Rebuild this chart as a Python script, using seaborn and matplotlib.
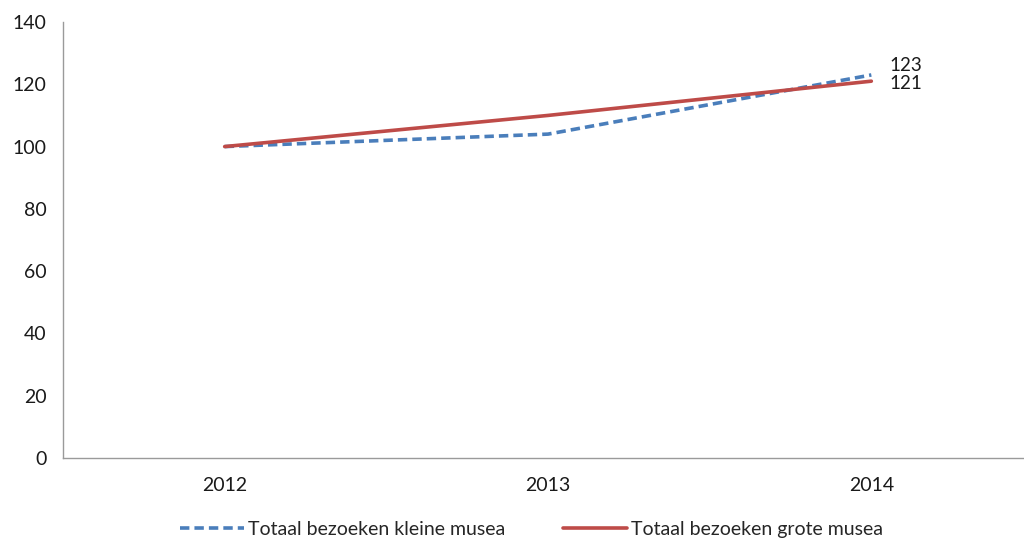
import pandas as pd
import matplotlib.pyplot as plt
import seaborn as sns

# waarden (index 2012 = 100)
jaren = ['2012', '2013', '2014']
kleine_musea = [100, 104, 123]
grote_musea = [100, 110, 121]
labels = ['Totaal bezoeken kleine musea', 'Totaal bezoeken grote musea']

df = pd.DataFrame({
    'jaar': jaren * 2,
    'waarde': kleine_musea + grote_musea,
    'reeks': [labels[0]] * 3 + [labels[1]] * 3,
})

sns.set_style('white')
plt.rcParams['font.family'] = ['Lato', 'DejaVu Sans']

fig = plt.figure(figsize=(10.24, 5.39), dpi=100)
ax = fig.add_axes([63 / 1024, 1 - 458 / 539, (1033 - 63) / 1024, (458 - 22) / 539])

kleuren = {labels[0]: '#4A7EBB', labels[1]: '#BE4B48'}
sns.lineplot(data=df, x='jaar', y='waarde', hue='reeks', palette=kleuren,
             style='reeks', dashes={labels[0]: (2.6, 1.4), labels[1]: ''},
             linewidth=2.6, ax=ax, legend=False)

# eindwaarden
ax.annotate(str(kleine_musea[-1]), xy=(2, kleine_musea[-1]), xytext=(13, 7),
            textcoords='offset points', fontsize=13.5, color='#1a1a1a', va='center')
ax.annotate(str(grote_musea[-1]), xy=(2, grote_musea[-1]), xytext=(13, -1.5),
            textcoords='offset points', fontsize=13.5, color='#1a1a1a', va='center')

ax.set_xlim(-0.5, 2.5)
ax.set_ylim(0, 140)
ax.set_yticks(range(0, 141, 20))
ax.set_xlabel('')
ax.set_ylabel('')
ax.tick_params(axis='y', length=0, pad=12, labelsize=14, labelcolor='#1a1a1a')
ax.tick_params(axis='x', length=0, pad=14, labelsize=14, labelcolor='#1a1a1a')
for kant in ['top', 'right']:
    ax.spines[kant].set_visible(False)
for kant in ['left', 'bottom']:
    ax.spines[kant].set_color('#9a9a9a')
    ax.spines[kant].set_linewidth(1)

handles = [
    plt.Line2D([], [], color=kleuren[labels[0]], lw=2.6, dashes=(2.6, 1.4)),
    plt.Line2D([], [], color=kleuren[labels[1]], lw=2.6),
]
fig.legend(handles, labels, loc='lower center', bbox_to_anchor=(0.519, -0.03),
           ncol=2, frameon=False, fontsize=14, handlelength=3.3,
           handletextpad=0.2, columnspacing=3.0)

fig.savefig('out.png', dpi=100)
